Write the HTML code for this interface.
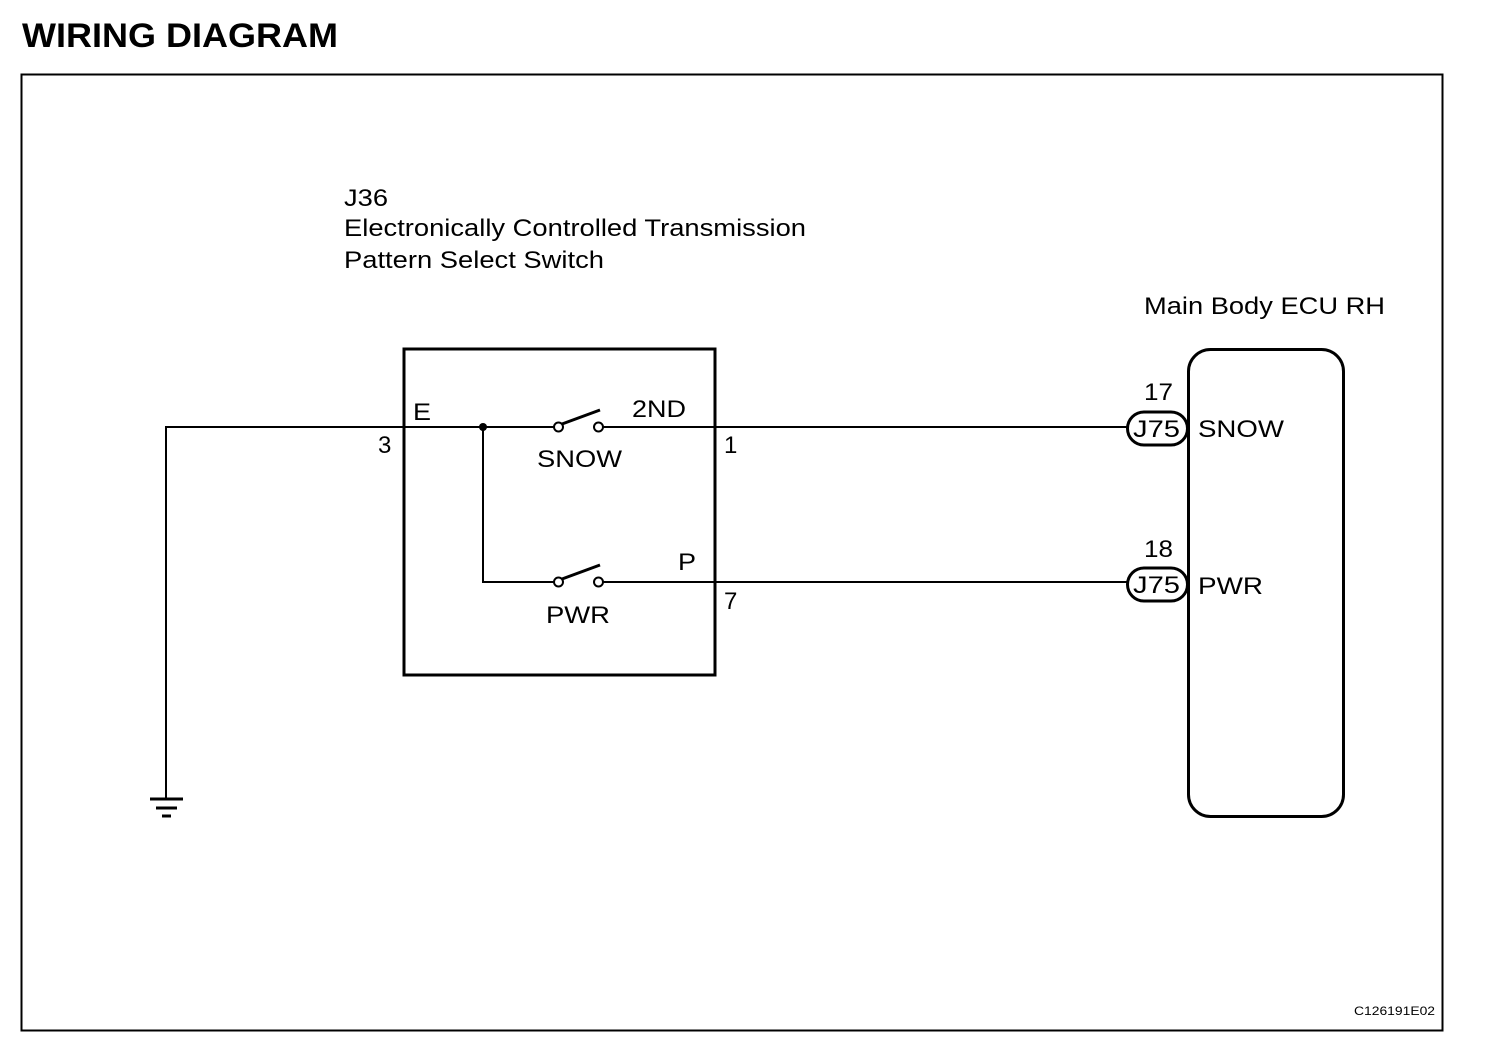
<!DOCTYPE html>
<html><head><style>
body{margin:0;background:#fff;}
svg text{font-family:"Liberation Sans",Arial,sans-serif;fill:#000;}
</style></head><body>
<svg width="1504" height="1042" viewBox="0 0 1504 1042" xmlns="http://www.w3.org/2000/svg">
<text x="22" y="47" font-size="34" font-weight="bold" textLength="316" lengthAdjust="spacingAndGlyphs">WIRING DIAGRAM</text>
<rect x="21.5" y="74.5" width="1421" height="956" fill="none" stroke="#000" stroke-width="2"/>
<text x="344" y="206" font-size="24" textLength="44" lengthAdjust="spacingAndGlyphs">J36</text>
<text x="344" y="236" font-size="24" textLength="462" lengthAdjust="spacingAndGlyphs">Electronically Controlled Transmission</text>
<text x="344" y="268" font-size="24" textLength="260" lengthAdjust="spacingAndGlyphs">Pattern Select Switch</text>
<text x="1144" y="314" font-size="24" textLength="241" lengthAdjust="spacingAndGlyphs">Main Body ECU RH</text>
<rect x="404" y="349" width="311" height="326" fill="none" stroke="#000" stroke-width="3"/>
<g stroke="#000" stroke-width="2" fill="none">
<polyline points="166,799 166,427 554,427"/>
<line x1="603" y1="427" x2="1128" y2="427"/>
<polyline points="483,427 483,582 554,582"/>
<line x1="603" y1="582" x2="1128" y2="582"/>
<circle cx="558.5" cy="427" r="4.5" fill="#fff"/>
<circle cx="598.5" cy="427" r="4.5" fill="#fff"/>
<circle cx="558.5" cy="582" r="4.5" fill="#fff"/>
<circle cx="598.5" cy="582" r="4.5" fill="#fff"/>
</g>
<g stroke="#000" stroke-width="3">
<line x1="562" y1="424" x2="600" y2="410"/>
<line x1="562" y1="579" x2="600" y2="565"/>
<line x1="150" y1="799" x2="183" y2="799"/>
<line x1="156" y1="808" x2="177" y2="808"/>
<line x1="162" y1="816" x2="171" y2="816"/>
</g>
<circle cx="483" cy="427" r="4" fill="#000"/>
<text x="413" y="420" font-size="24" textLength="18" lengthAdjust="spacingAndGlyphs">E</text>
<text x="378" y="453" font-size="24">3</text>
<text x="632" y="417" font-size="24" textLength="54" lengthAdjust="spacingAndGlyphs">2ND</text>
<text x="724" y="453" font-size="24">1</text>
<text x="537" y="467" font-size="24" textLength="85" lengthAdjust="spacingAndGlyphs">SNOW</text>
<text x="678" y="570" font-size="24" textLength="18" lengthAdjust="spacingAndGlyphs">P</text>
<text x="724" y="609" font-size="24">7</text>
<text x="546" y="623" font-size="24" textLength="64" lengthAdjust="spacingAndGlyphs">PWR</text>
<rect x="1127.5" y="412" width="60" height="33" rx="16.5" fill="#fff" stroke="#000" stroke-width="3"/>
<rect x="1127.5" y="568" width="60" height="33" rx="16.5" fill="#fff" stroke="#000" stroke-width="3"/>
<rect x="1188.5" y="349.5" width="155" height="467" rx="22" fill="none" stroke="#000" stroke-width="3"/>
<text x="1133" y="437" font-size="24" textLength="47" lengthAdjust="spacingAndGlyphs">J75</text>
<text x="1133" y="593" font-size="24" textLength="47" lengthAdjust="spacingAndGlyphs">J75</text>
<text x="1144" y="400" font-size="24" textLength="29" lengthAdjust="spacingAndGlyphs">17</text>
<text x="1144" y="557" font-size="24" textLength="29" lengthAdjust="spacingAndGlyphs">18</text>
<text x="1198" y="437" font-size="24" textLength="86" lengthAdjust="spacingAndGlyphs">SNOW</text>
<text x="1198" y="594" font-size="24" textLength="65" lengthAdjust="spacingAndGlyphs">PWR</text>
<text x="1354" y="1015" font-size="12" textLength="81" lengthAdjust="spacingAndGlyphs">C126191E02</text>
</svg>
</body></html>
